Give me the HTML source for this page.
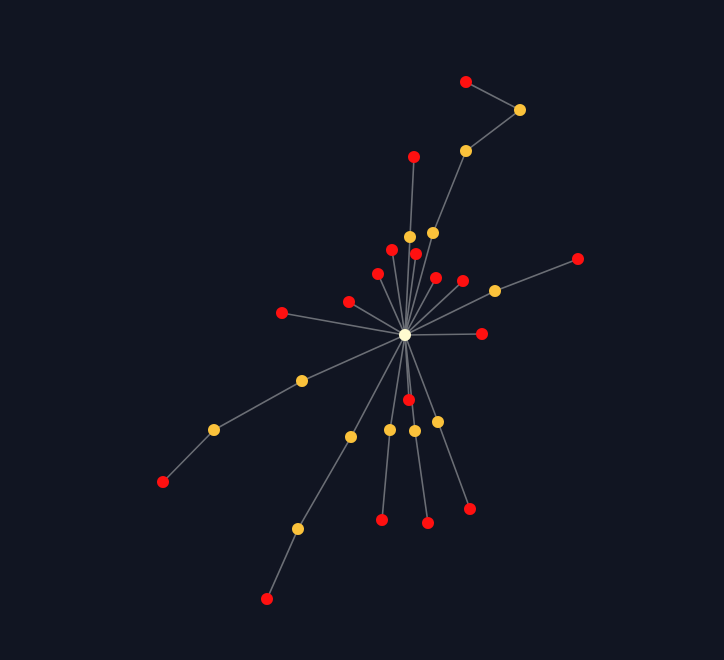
<!DOCTYPE html>
<html>
<head>
<meta charset="utf-8">
<style>
  html,body{margin:0;padding:0;background:#111522;}
  svg{display:block;}
</style>
</head>
<body>
<svg id="chart" width="724" height="660" viewBox="0 0 724 660">
  <rect width="724" height="660" fill="#111522"/>
  <g id="links"></g>
  <g id="nodes"></g>
</svg>
<script>
// node positions (layout data)
const nodeX = [405,433,466,520,466,410,414,392,416,378,436,463,495,578,349,282,482,302,214,163,351,298,267,409,390,382,415,428,438,470];
const nodeY = [335,233,151,110,82,237,157,250,254,274,278,281,291,259,302,313,334,381,430,482,437,529,599,400,430,520,431,523,422,509];
// node type: 0 = root, 1 = intermediate (yellow), 2 = leaf (red)
const nodeType = [0,1,1,1,2,1,2,2,2,2,2,2,1,2,2,2,2,1,1,2,1,1,2,2,1,2,1,2,1,2];
// links: source/target indices
const linkSource = [0,1,2,3,0,5,0,0,0,0,0,0,12,0,0,0,0,17,18,0,20,21,0,0,24,0,26,0,28];
const linkTarget = [1,2,3,4,5,6,7,8,9,10,11,12,13,14,15,16,17,18,19,20,21,22,23,24,25,26,27,28,29];

const colors = ['#fffbd0','#fbc23b','#ff1010'];
const NS = 'http://www.w3.org/2000/svg';
const linksG = document.getElementById('links');
const nodesG = document.getElementById('nodes');

for (let i = 0; i < linkSource.length; i++) {
  const s = linkSource[i], t = linkTarget[i];
  const l = document.createElementNS(NS, 'line');
  l.setAttribute('x1', nodeX[s]); l.setAttribute('y1', nodeY[s]);
  l.setAttribute('x2', nodeX[t]); l.setAttribute('y2', nodeY[t]);
  l.setAttribute('stroke', '#6b6e75');
  l.setAttribute('stroke-width', '1.6');
  
  
  linksG.appendChild(l);
}
for (let i = 0; i < nodeX.length; i++) {
  const c = document.createElementNS(NS, 'circle');
  c.setAttribute('cx', nodeX[i]); c.setAttribute('cy', nodeY[i]);
  c.setAttribute('r', 6);
  c.setAttribute('fill', colors[nodeType[i]]);
  
  
  nodesG.appendChild(c);
}
</script>
</body>
</html>
